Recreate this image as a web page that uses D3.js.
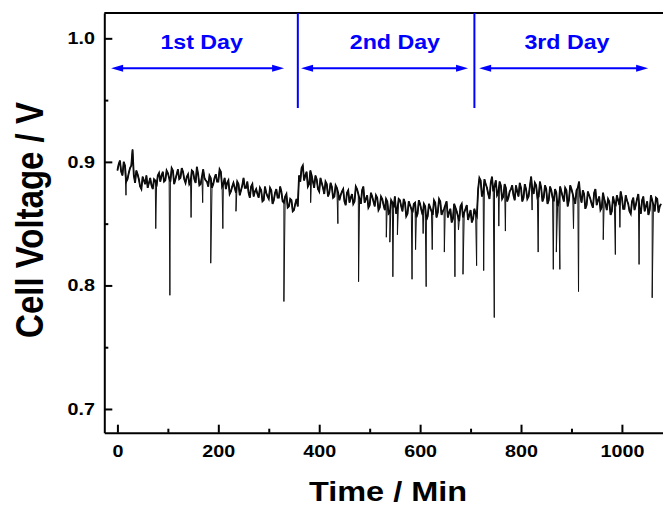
<!DOCTYPE html>
<html>
<head>
<meta charset="utf-8">
<script src="https://cdn.jsdelivr.net/npm/d3@7"></script>
<style>
  body { margin: 0; background: #fff; }
  text { font-family: "Liberation Sans", Arial, sans-serif; font-weight: bold; }
</style>
</head>
<body>
<svg width="663" height="506"></svg>
<script>
// cell voltage readings, one every 5 min, split per day
const step = 5
const day1Start = 0, day2Start = 360, day3Start = 715
const day1 = [0.893,0.901,0.889,0.897,0.886,0.895,0.910,0.883,0.890,0.880,
  0.888,0.882,0.879,0.887,0.878,0.885,0.889,0.884,0.892,0.885,
  0.891,0.884,0.893,0.886,0.894,0.887,0.892,0.883,0.890,0.884,
  0.892,0.883,0.890,0.882,0.894,0.885,0.880,0.887,0.882,0.890,
  0.884,0.892,0.882,0.878,0.885,0.876,0.883,0.875,0.882,0.877,
  0.887,0.879,0.875,0.880,0.872,0.878,0.871,0.877,0.869,0.875,
  0.870,0.877,0.869,0.878,0.871,0.876,0.867,0.874,0.864,0.869,
  0.861,0.870]
const day2 = [0.889,0.895,0.885,0.892,0.882,0.889,0.879,0.886,0.876,0.883,
  0.874,0.882,0.875,0.880,0.872,0.879,0.869,0.876,0.868,0.875,
  0.867,0.874,0.868,0.878,0.870,0.877,0.867,0.873,0.865,0.872,
  0.864,0.871,0.863,0.870,0.861,0.868,0.859,0.867,0.872,0.862,
  0.869,0.860,0.867,0.858,0.865,0.859,0.867,0.858,0.866,0.857,
  0.864,0.856,0.863,0.857,0.867,0.859,0.868,0.860,0.865,0.855,
  0.862,0.854,0.863,0.856,0.864,0.855,0.862,0.853,0.861,0.854,
  0.858]
const day3 = [0.878,0.885,0.875,0.882,0.874,0.883,0.876,0.885,0.875,0.881,
  0.872,0.879,0.871,0.878,0.873,0.881,0.872,0.879,0.871,0.878,
  0.872,0.888,0.874,0.881,0.872,0.879,0.871,0.878,0.869,0.877,
  0.868,0.875,0.867,0.876,0.868,0.877,0.869,0.878,0.870,0.877,
  0.884,0.867,0.874,0.865,0.873,0.866,0.875,0.865,0.872,0.863,
  0.870,0.861,0.868,0.860,0.867,0.873,0.865,0.871,0.862,0.869,
  0.860,0.868,0.861,0.870,0.862,0.869,0.860,0.868,0.861,0.869,
  0.860,0.870,0.864]
// readings in between (2.5 min after each of the above)
const day1Mid = [0.898,0.892,0.900,0.884,0.891,0.897,0.889,0.893,0.886,0.878,
  0.885,0.889,0.883,0.881,0.886,0.880,0.891,0.889,0.884,0.893,
  0.887,0.895,0.882,0.890,0.886,0.895,0.886,0.888,0.882,0.893,
  0.886,0.896,0.881,0.888,0.887,0.884,0.889,0.879,0.887,0.884,
  0.894,0.880,0.887,0.883,0.874,0.880,0.879,0.884,0.873,0.881,
  0.879,0.884,0.871,0.882,0.876,0.874,0.879,0.868,0.880,0.872,
  0.879,0.866,0.875,0.871,0.880,0.868,0.872,0.863,0.870,0.860,
  0.866,0.864]
const day2Mid = [0.884,0.897,0.889,0.880,0.893,0.884,0.889,0.878,0.887,0.879,
  0.884,0.872,0.883,0.871,0.881,0.875,0.873,0.878,0.865,0.877,
  0.871,0.866,0.880,0.874,0.866,0.880,0.870,0.863,0.875,0.868,
  0.873,0.861,0.872,0.865,0.870,0.858,0.869,0.863,0.858,0.870,
  0.864,0.870,0.856,0.868,0.862,0.866,0.855,0.869,0.861,0.866,
  0.853,0.866,0.860,0.869,0.855,0.870,0.857,0.862,0.868,0.859,
  0.851,0.866,0.860,0.852,0.866,0.859,0.865,0.857,0.851,0.862,
  0.856]
const day3Mid = [0.887,0.872,0.886,0.879,0.870,0.888,0.880,0.873,0.884,0.870,
  0.882,0.868,0.876,0.881,0.869,0.876,0.883,0.868,0.882,0.870,
  0.880,0.878,0.883,0.871,0.884,0.868,0.881,0.866,0.880,0.871,
  0.878,0.864,0.880,0.872,0.879,0.864,0.881,0.874,0.866,0.879,
  0.872,0.877,0.862,0.876,0.870,0.863,0.878,0.869,0.861,0.875,
  0.866,0.870,0.857,0.872,0.864,0.869,0.876,0.862,0.873,0.866,
  0.858,0.871,0.865,0.874,0.858,0.872,0.864,0.857,0.873,0.865,
  0.871,0.859,0.866]

// sharp downward dips (time in min, voltage)
const dipTimes = [17,76,104,146,169,185,209,235,330,383,437,478,533,540,546,555,584,591,606,612,624,648,669,676,685,712,726,747,756,769,822,834,864,870,877,904,914,963,987,996,1034,1060]
const dipVolts = [0.873,0.846,0.792,0.855,0.867,0.818,0.846,0.860,0.787,0.867,0.850,0.803,0.839,0.835,0.807,0.841,0.805,0.829,0.842,0.799,0.829,0.827,0.807,0.845,0.809,0.816,0.812,0.774,0.848,0.844,0.861,0.827,0.813,0.827,0.813,0.846,0.795,0.837,0.825,0.847,0.817,0.790]

// axis ticks
const xTicks = [0, 200, 400, 600, 800, 1000]
const xMinor = [100, 300, 500, 700, 900]
const yTicks = [0.7, 0.8, 0.9, 1.0]
const yMinor = [0.75, 0.85, 0.95]

// day annotations
const dayLabels = ['1st Day', '2nd Day', '3rd Day']
const dayLabelAt = [167, 550, 891]
const dayBounds = [357.6, 707.6]
const arrowFrom = [-12.5, 364, 717]
const arrowTo = [330.4, 695, 1052]

const svg = d3.select('svg')
const plotLeft = 104.3, plotBottom = 432.7, plotTop = 13
const sx = 1.16   // glyphs are a bit wider than tall in the original

const x = d3.scaleLinear().domain([-26, 1100]).range([plotLeft, plotLeft + 1126 * 0.5045])
const y = d3.scaleLinear().domain([0.6808, 1.0205]).range([plotBottom, plotTop])

// build the series
let base = []
;[[day1Start, day1, day1Mid], [day2Start, day2, day2Mid], [day3Start, day3, day3Mid]].forEach(([t0, arr, mid]) => {
  arr.forEach((v, i) => {
    base.push([t0 + i * step, v])
    base.push([t0 + i * step + step / 2, mid[i]])
  })
})
let pts = base.concat(dipTimes.map((t, i) => [t, dipVolts[i]]))
pts.sort((a, b) => a[0] - b[0])

const line = d3.line().x(d => x(d[0])).y(d => y(d[1]))
// dense noisy band
svg.append('path')
  .datum(base)
  .attr('fill', 'none')
  .attr('stroke', '#000')
  .attr('stroke-width', 1.8)
  .attr('d', line)
// full trace with the thin dips
svg.append('path')
  .datum(pts)
  .attr('fill', 'none')
  .attr('stroke', '#111')
  .attr('stroke-width', 1)
  .attr('d', line)

// axes
svg.append('g').attr('transform', `translate(0,${plotBottom})`)
  .call(d3.axisBottom(x).tickValues(xTicks).tickSizeInner(-8).tickSizeOuter(0).tickPadding(12).tickFormat(d3.format('d')))
svg.append('g').attr('transform', `translate(0,${plotBottom})`)
  .call(d3.axisBottom(x).tickValues(xMinor).tickSizeInner(-4).tickSizeOuter(0).tickFormat(''))
  .select('.domain').remove()

svg.append('g').attr('transform', `translate(${plotLeft},0)`)
  .call(d3.axisLeft(y).tickValues(yTicks).tickSizeInner(-8).tickSizeOuter(0).tickPadding(8).tickFormat(d3.format('.1f')))
svg.append('g').attr('transform', `translate(${plotLeft},0)`)
  .call(d3.axisLeft(y).tickValues(yMinor).tickSizeInner(-4).tickSizeOuter(0).tickFormat(''))
  .select('.domain').remove()

svg.selectAll('.domain, .tick line').attr('stroke', '#000').attr('stroke-width', 2)
svg.selectAll('.tick text')
  .attr('fill', '#000')
  .style('font-size', '17px')
  .attr('transform', `scale(${sx},1)`)

// top frame
svg.append('line')
  .attr('x1', plotLeft).attr('x2', x(1100))
  .attr('y1', plotTop).attr('y2', plotTop)
  .attr('stroke', '#000').attr('stroke-width', 2)

// axis titles
svg.append('text')
  .attr('transform', `translate(388,501) scale(${sx},1)`)
  .attr('text-anchor', 'middle')
  .style('font-size', '28px')
  .text('Time / Min')

svg.append('text')
  .attr('transform', `translate(43,220) scale(${sx},1) rotate(-90)`)
  .attr('text-anchor', 'middle')
  .style('font-size', '33px')
  .text('Cell Voltage / V')

// day markers
const blue = '#0000ff'
const ann = svg.append('g')
ann.selectAll('line.bound').data(dayBounds).enter().append('line')
  .attr('class', 'bound')
  .attr('x1', d => x(d)).attr('x2', d => x(d))
  .attr('y1', plotTop).attr('y2', y(0.9436))
  .attr('stroke', blue).attr('stroke-width', 2)

const ay = y(0.9757)
dayLabels.forEach((lab, i) => {
  const a = x(arrowFrom[i]), b = x(arrowTo[i])
  ann.append('line')
    .attr('x1', a + 6).attr('x2', b - 6)
    .attr('y1', ay).attr('y2', ay)
    .attr('stroke', blue).attr('stroke-width', 2)
  ann.append('path')
    .attr('d', `M${a},${ay} L${a + 12},${ay - 3.5} L${a + 12},${ay + 3.5} Z`)
    .attr('fill', blue)
  ann.append('path')
    .attr('d', `M${b},${ay} L${b - 12},${ay - 3.5} L${b - 12},${ay + 3.5} Z`)
    .attr('fill', blue)
  ann.append('text')
    .attr('transform', `translate(${x(dayLabelAt[i])},${y(0.9911)}) scale(${sx},1)`)
    .attr('text-anchor', 'middle')
    .attr('fill', blue)
    .style('font-size', '20px')
    .text(lab)
})
</script>
</body>
</html>
